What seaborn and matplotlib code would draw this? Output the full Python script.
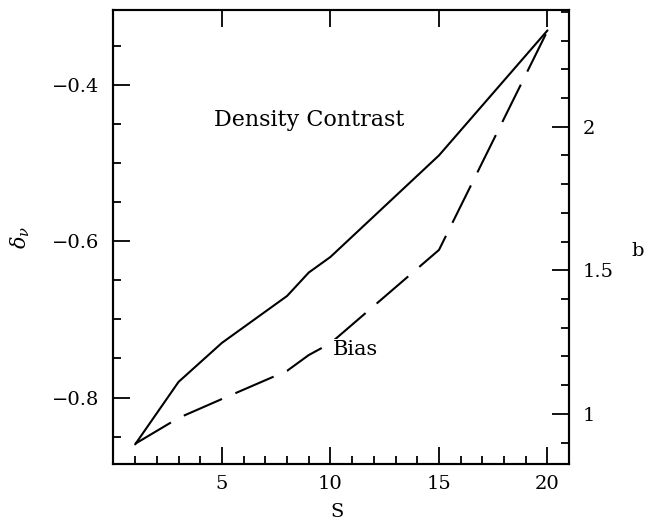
import numpy as np
import pandas as pd
import matplotlib
matplotlib.use('Agg')
import matplotlib.pyplot as plt
from matplotlib.ticker import MultipleLocator, FixedLocator, FuncFormatter
import seaborn as sns

# values
S = [1, 3, 5, 8, 9, 10, 15, 20]
density_contrast = [-0.86, -0.78, -0.73, -0.67, -0.64, -0.62, -0.49, -0.33]
bias = [0.896, 0.986, 1.052, 1.15, 1.205, 1.246, 1.571, 2.334]
s_ticks = [5, 10, 15, 20]


def style_ticks(ax):
    ax.tick_params(which='major', direction='in', length=12, width=1.3, color='black')
    ax.tick_params(which='minor', direction='in', length=6, width=1.3, color='black')


def main():
    sns.set_style('ticks')
    plt.rcParams['font.family'] = ['DejaVu Serif']
    plt.rcParams['mathtext.fontset'] = 'dejavuserif'
    plt.rcParams['text.color'] = 'black'
    plt.rcParams['axes.labelcolor'] = 'black'
    plt.rcParams['xtick.color'] = 'black'
    plt.rcParams['ytick.color'] = 'black'
    plt.rcParams['axes.edgecolor'] = 'black'

    df = pd.DataFrame({"S": S, "delta": density_contrast, "b": bias})

    fig = plt.figure(figsize=(6.52, 5.32), dpi=100)
    ax = fig.add_axes([0.174, 0.128, 0.699, 0.853])
    sns.lineplot(data=df, x="S", y="delta", color="black", lw=1.5, ax=ax)
    ax.set_xlim(0, 21)
    ax.set_ylim(-0.885, -0.304)
    ax.xaxis.set_major_locator(FixedLocator(s_ticks))
    ax.xaxis.set_minor_locator(MultipleLocator(1))
    ax.yaxis.set_major_locator(MultipleLocator(0.2))
    ax.yaxis.set_minor_locator(MultipleLocator(0.05))
    ax.yaxis.set_major_formatter(FuncFormatter(lambda v, p: f"{v:.1f}".replace('-', '\u2212')))
    style_ticks(ax)
    ax.tick_params(axis='x', top=True, labeltop=False, pad=8, labelsize=14)
    ax.tick_params(axis='y', left=True, right=False, pad=10, labelsize=14)
    ax.set_xlabel("S", fontsize=14)
    ax.xaxis.set_label_coords(0.49, -0.086)
    ax.set_ylabel(r"$\delta_\nu$", fontsize=15)
    ax.yaxis.set_label_coords(-0.178, 0.5)
    ax.text(9, -0.445, "Density Contrast", fontsize=16, ha='center', va='center')

    ax2 = ax.twinx()
    sns.lineplot(data=df, x="S", y="b", color="black", lw=1.5, ax=ax2,
                 linestyle=(0, (20, 7)))
    ax2.set_ylim(0.826, 2.406)
    ax2.yaxis.set_major_locator(MultipleLocator(0.5))
    ax2.yaxis.set_minor_locator(MultipleLocator(0.1))
    ax2.yaxis.set_major_formatter(FuncFormatter(lambda v, p: f"{v:g}"))
    style_ticks(ax2)
    ax2.tick_params(axis='y', pad=10, labelsize=14)
    ax2.set_ylabel("b", fontsize=14, rotation=0, va='center', ha='center')
    ax2.yaxis.set_label_coords(1.15, 0.47)
    ax.text(11.15, -0.739, "Bias", fontsize=15, ha='center', va='center',
            bbox=dict(facecolor='white', edgecolor='none', pad=1), zorder=5)
    ax2.set_zorder(ax.get_zorder() - 1)
    ax.patch.set_visible(False)

    for a in (ax, ax2):
        for sp in a.spines.values():
            sp.set_linewidth(1.5)
            sp.set_color('black')
            sp.set_visible(True)

    fig.savefig("out.png", dpi=100)
    plt.close(fig)


if __name__ == '__main__':
    main()
